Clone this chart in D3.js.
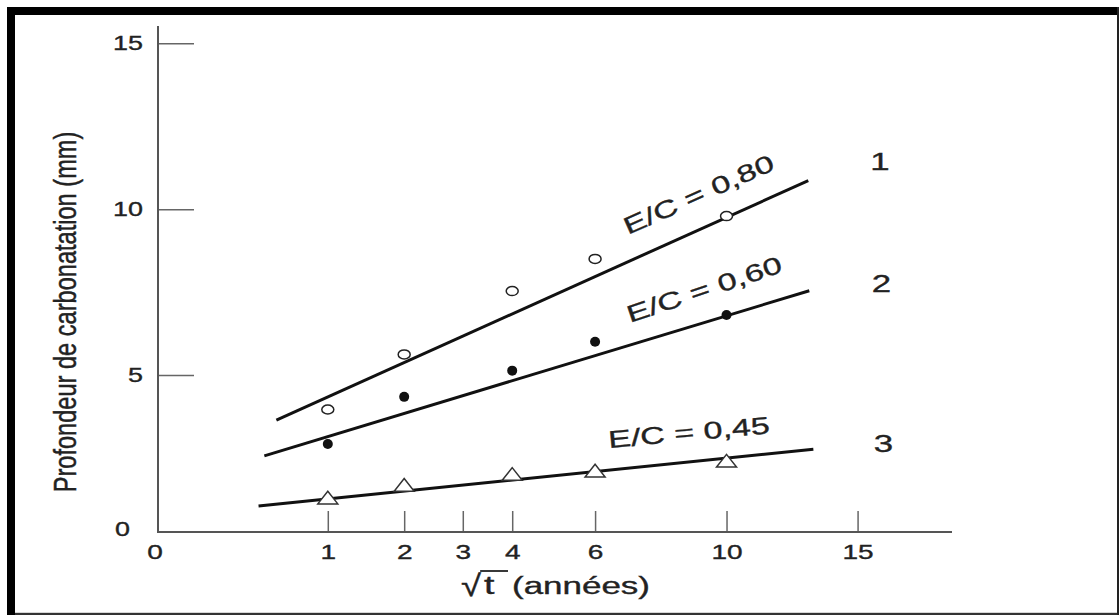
<!DOCTYPE html>
<html>
<head>
<meta charset="utf-8">
<script src="https://cdn.jsdelivr.net/npm/d3@7"></script>
<style>
  html, body { margin: 0; padding: 0; background: #fff; }
  svg { display: block; }
  text { font-family: "Liberation Sans", Arial, Helvetica, sans-serif; fill: #222; stroke: #222; stroke-width: 0.35px; }
</style>
</head>
<body>
<svg id="chart" width="1119" height="615"></svg>
<script>
// ---- data ----
const tYears = [1, 2, 4, 6, 10];
const depthEC080 = [3.96, 5.62, 7.53, 8.50, 9.79];
const depthEC060 = [2.92, 4.34, 5.13, 6.00, 6.81];
const depthEC045 = [1.30, 1.68, 2.01, 2.11, 2.41];

// fitted straight lines (in sqrt(t)), given by their end points
const fitT080 = [0.52, 13.0],  fitD080 = [3.64, 10.86];
const fitT060 = [0.43, 13.04], fitD060 = [2.56, 7.54];
const fitT045 = [0.39, 13.2],  fitD045 = [1.05, 2.76];

const xTickValues = [1, 2, 3, 4, 6, 10, 15];
const yTickValues = [5, 10, 15];
const seriesNames = ["E/C = 0,80", "E/C = 0,60", "E/C = 0,45"];
const seriesNumbers = ["1", "2", "3"];
const yTitle = "Profondeur de carbonatation (mm)";
const xTitle = "(années)";

// ---- layout ----
const svg = d3.select("#chart");
const axisX0 = 158, axisX1 = 952, axisYTop = 26, axisYBase = 532;

const x = d3.scaleSqrt().domain([0, 20]).range([143.4, 143.4 + 184.4 * Math.sqrt(20)]);
const y = d3.scaleLinear().domain([0, 15]).range([540.8, 43.3]);

function stretch(sel, k) {
  sel.each(function () {
    const w = this.getComputedTextLength();
    this.setAttribute("textLength", w * k);
    this.setAttribute("lengthAdjust", "spacingAndGlyphs");
  });
}

// frame
svg.append("rect").attr("x", 0).attr("y", 0).attr("width", 1119).attr("height", 615).attr("fill", "#fff");
svg.append("rect").attr("x", 7).attr("y", 7).attr("width", 1112).attr("height", 8).attr("fill", "#000");
svg.append("rect").attr("x", 7).attr("y", 7).attr("width", 8).attr("height", 608).attr("fill", "#000");
svg.append("rect").attr("x", 15).attr("y", 612.8).attr("width", 1104).attr("height", 2.2).attr("fill", "#333");
svg.append("rect").attr("x", 1117).attr("y", 7).attr("width", 2).attr("height", 608).attr("fill", "#222");

// y axis
const gy = svg.append("g").attr("transform", `translate(${axisX0},0)`)
  .call(d3.axisLeft(y).tickValues(yTickValues).tickSize(-36).tickPadding(15));
gy.select(".domain").remove();
gy.selectAll(".tick line").attr("stroke", "#666").attr("stroke-width", 1.5);
gy.selectAll(".tick text").attr("font-size", 19.5).attr("fill", "#222")
  .style("font-family", '"Liberation Sans", Arial, sans-serif');
stretch(gy.selectAll(".tick text"), 1.38);
svg.append("line").attr("x1", axisX0).attr("x2", axisX0).attr("y1", axisYTop).attr("y2", axisYBase + 1)
  .attr("stroke", "#555").attr("stroke-width", 2);

// x axis
const gx = svg.append("g").attr("transform", `translate(0,${axisYBase})`)
  .call(d3.axisBottom(x).tickValues(xTickValues).tickSize(-21).tickPadding(13));
gx.select(".domain").remove();
gx.selectAll(".tick line").attr("stroke", "#666").attr("stroke-width", 1.5);
gx.selectAll(".tick text").attr("font-size", 20).attr("fill", "#222")
  .style("font-family", '"Liberation Sans", Arial, sans-serif');
stretch(gx.selectAll(".tick text"), 1.4);
svg.append("line").attr("x1", axisX0 - 1).attr("x2", axisX1).attr("y1", axisYBase).attr("y2", axisYBase)
  .attr("stroke", "#555").attr("stroke-width", 2);

// origin labels
const oy = svg.append("text").attr("x", 122.5).attr("y", axisYBase + 4).attr("text-anchor", "middle")
  .attr("font-size", 19.5).text("0");
stretch(oy, 1.38);
const ox = svg.append("text").attr("x", 155).attr("y", axisYBase + 27).attr("text-anchor", "middle")
  .attr("font-size", 20).text("0");
stretch(ox, 1.4);

// axis titles
svg.append("text").attr("transform", "translate(76,312) scale(1.3,1) rotate(-90)")
  .attr("text-anchor", "middle").attr("font-size", 23.6).text(yTitle);

const rad = svg.append("text").attr("x", 461).attr("y", 596).attr("font-size", 30)
  .attr("textLength", 20).attr("lengthAdjust", "spacingAndGlyphs").text("√");
const rb = rad.node().getBBox();
const tt = svg.append("text").attr("x", 484).attr("y", 594).attr("font-size", 25).text("t");
stretch(tt, 1.5);
const barY = Math.max(rb.y + 2, 571);
svg.append("line").attr("x1", rb.x + rb.width - 1.5).attr("x2", 508).attr("y1", barY).attr("y2", barY)
  .attr("stroke", "#222").attr("stroke-width", 1.8);
svg.append("text").attr("x", 512).attr("y", 594).attr("font-size", 23)
  .attr("textLength", 138).attr("lengthAdjust", "spacingAndGlyphs").text(xTitle);

// fitted lines
const line = d3.line().x(d => x(d[0])).y(d => y(d[1]));
const fits = [[fitT080, fitD080], [fitT060, fitD060], [fitT045, fitD045]];
fits.forEach(([tt2, dd]) => {
  svg.append("path").attr("d", line(tt2.map((t, i) => [t, dd[i]])))
    .attr("fill", "none").attr("stroke", "#111").attr("stroke-width", 3);
});

// markers
svg.selectAll(".p080").data(tYears.map((t, i) => [t, depthEC080[i]])).enter()
  .append("ellipse").attr("cx", d => x(d[0])).attr("cy", d => y(d[1]))
  .attr("rx", 6).attr("ry", 4.5).attr("fill", "#fff").attr("stroke", "#222").attr("stroke-width", 1.5);

svg.selectAll(".p060").data(tYears.map((t, i) => [t, depthEC060[i]])).enter()
  .append("circle").attr("cx", d => x(d[0])).attr("cy", d => y(d[1]))
  .attr("r", 5).attr("fill", "#111");

svg.selectAll(".p045").data(tYears.map((t, i) => [t, depthEC045[i]])).enter()
  .append("path").attr("d", "M0,-6.5L10,6.2L-10,6.2Z")
  .attr("transform", d => `translate(${x(d[0])},${y(d[1])})`)
  .attr("fill", "#fff").attr("stroke", "#333").attr("stroke-width", 1.5);

// line labels
const labelPos = [[628, 235, -24], [630, 323, -18.5], [609, 448, -5.2]];
seriesNames.forEach((s, i) => {
  const [lx, ly, a] = labelPos[i];
  svg.append("text").attr("transform", `translate(${lx},${ly}) rotate(${a})`)
    .attr("font-size", 24).attr("textLength", 162).attr("lengthAdjust", "spacingAndGlyphs").text(s);
});

// series numbers
const numPos = [[880, 161.5], [881.5, 283.5], [883.5, 443.5]];
seriesNumbers.forEach((s, i) => {
  const t = svg.append("text").attr("x", numPos[i][0]).attr("y", numPos[i][1] + 8.5)
    .attr("text-anchor", "middle").attr("font-size", 24).text(s);
  stretch(t, 1.45);
});
</script>
</body>
</html>
